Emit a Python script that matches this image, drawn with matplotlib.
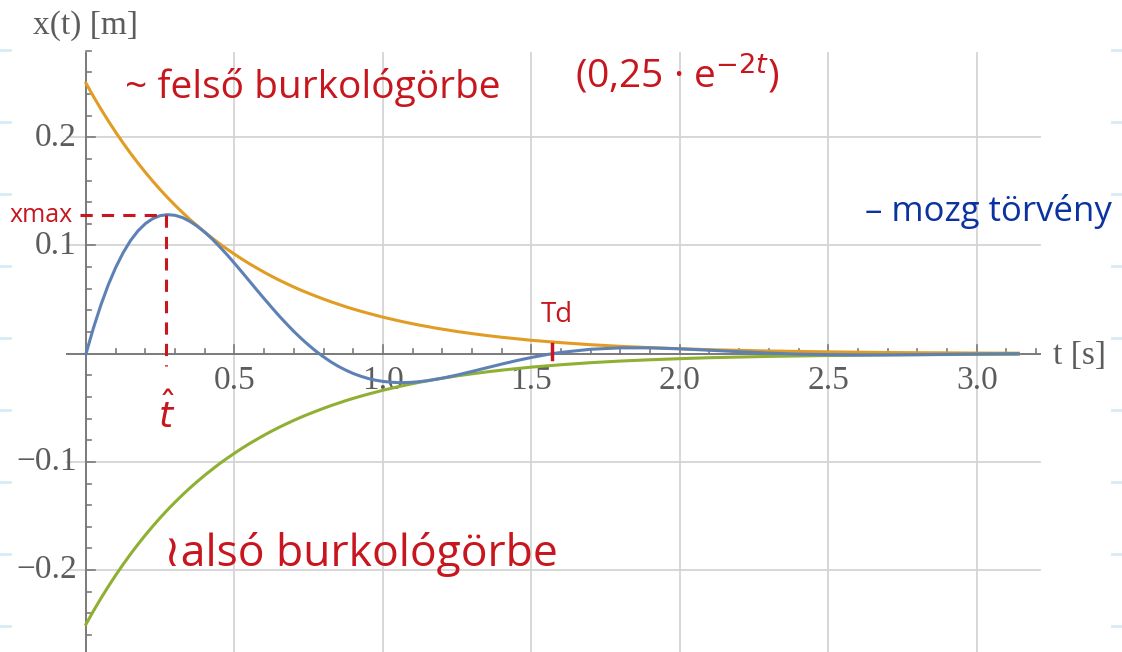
import numpy as np
import matplotlib.pyplot as plt

# time samples [s]
t = [0.000, 0.025, 0.050, 0.075, 0.100, 0.125, 0.150, 0.175, 0.200, 0.225,
     0.250, 0.275, 0.300, 0.325, 0.350, 0.375, 0.400, 0.425, 0.450, 0.475,
     0.500, 0.525, 0.550, 0.575, 0.600, 0.625, 0.650, 0.675, 0.700, 0.725,
     0.750, 0.775, 0.800, 0.825, 0.850, 0.875, 0.900, 0.925, 0.950, 0.975,
     1.000, 1.025, 1.050, 1.075, 1.100, 1.125, 1.150, 1.175, 1.200,
     1.25, 1.30, 1.35, 1.40, 1.45, 1.50, 1.55, 1.60, 1.70, 1.80, 1.90,
     2.00, 2.10, 2.20, 2.30, 2.40, 2.50, 2.60, 2.70, 2.80, 2.90, 3.00, 3.10, 3.14]

# upper envelope 0.25*e^(-2t) [m]
envelope = [0.2500, 0.2378, 0.2262, 0.2152, 0.2047, 0.1947, 0.1852, 0.1762, 0.1676, 0.1594,
            0.1516, 0.1442, 0.1372, 0.1305, 0.1241, 0.1181, 0.1123, 0.1069, 0.1016, 0.0967,
            0.0920, 0.0875, 0.0832, 0.0792, 0.0753, 0.0716, 0.0681, 0.0648, 0.0616, 0.0586,
            0.0558, 0.0531, 0.0505, 0.0480, 0.0457, 0.0434, 0.0413, 0.0393, 0.0374, 0.0356,
            0.0338, 0.0322, 0.0306, 0.0291, 0.0277, 0.0263, 0.0251, 0.0238, 0.0227,
            0.0205, 0.0186, 0.0168, 0.0152, 0.0138, 0.0124, 0.0113, 0.0102, 0.0083, 0.0068, 0.0056,
            0.0046, 0.0037, 0.0031, 0.0025, 0.0021, 0.0017, 0.0014, 0.0011, 0.0009, 0.0008,
            0.0006, 0.0005, 0.0005]

# displacement x(t) [m]
x = [0.0000, 0.0237, 0.0449, 0.0636, 0.0797, 0.0933, 0.1046, 0.1135, 0.1202, 0.1249,
     0.1276, 0.1285, 0.1279, 0.1258, 0.1223, 0.1178, 0.1123, 0.1060, 0.0989, 0.0915,
     0.0836, 0.0755, 0.0673, 0.0590, 0.0509, 0.0429, 0.0351, 0.0277, 0.0206, 0.0140,
     0.0079, 0.0022, -0.0029, -0.0076, -0.0117, -0.0152, -0.0183, -0.0208, -0.0229, -0.0245,
     -0.0256, -0.0263, -0.0267, -0.0267, -0.0264, -0.0258, -0.0249, -0.0238, -0.0226,
     -0.0197, -0.0164, -0.0130, -0.0096, -0.0064, -0.0035, -0.0009, 0.0012, 0.0041, 0.0054, 0.0054,
     0.0045, 0.0032, 0.0018, 0.0006, -0.0004, -0.0009, -0.0012, -0.0011, -0.0009, -0.0006,
     -0.0003, -0.0001, 0.0000]

x_ticks = [0.5, 1.0, 1.5, 2.0, 2.5, 3.0]
x_tick_labels = ["0.5", "1.0", "1.5", "2.0", "2.5", "3.0"]
y_ticks = [-0.2, -0.1, 0.1, 0.2]
y_tick_labels = ["\u22120.2", "\u22120.1", "0.1", "0.2"]

t_hat, x_max = 0.27, 0.128
t_d = 1.571

# pixel scale of the plot
sx, sy = 296.9, 1082.0
x0, y0 = 86.0, 353.7

fig = plt.figure(figsize=(11.22, 6.52), dpi=100)
ax = fig.add_axes([0, 0, 1, 1])
ax.set_xlim(-x0 / sx, (1122 - x0) / sx)
ax.set_ylim(-(652 - y0) / sy, y0 / sy)
ax.axis("off")

tmin, tmax = -0.064, 3.213
ymin, ymax = -0.30, 0.278

grid_c = "#d4d4d4"
axis_c = "#7a7a7a"
lab_c = "#5c5c5c"

# grid
for gx in x_ticks:
    ax.plot([gx, gx], [ymin, ymax], color=grid_c, lw=1.3, zorder=1)
for gy in y_ticks:
    ax.plot([tmin, tmax], [gy, gy], color=grid_c, lw=1.3, zorder=1)

# axes
ax.plot([tmin, tmax], [0, 0], color=axis_c, lw=1.4, zorder=2)
ax.plot([0, 0], [ymin, ymax], color=axis_c, lw=1.4, zorder=2)

for tk in np.arange(0.1, 3.25, 0.1):
    major = abs(tk * 2 - round(tk * 2)) < 1e-6
    h = (9 if major else 5) / sy
    ax.plot([tk, tk], [0, h], color=axis_c, lw=1.2, zorder=2)
for yk in np.arange(-0.30, 0.28, 0.02):
    if abs(yk) < 1e-9:
        continue
    major = abs(yk * 10 - round(yk * 10)) < 1e-6
    w = (9 if major else 5) / sx
    ax.plot([0, w], [yk, yk], color=axis_c, lw=1.2, zorder=2)

serif = "Liberation Serif"
for tk, lab in zip(x_ticks, x_tick_labels):
    ax.text(tk, -27 / sy, lab, ha="center", va="center", fontsize=24,
            family=serif, color=lab_c, zorder=3)
for yk, lab in zip(y_ticks, y_tick_labels):
    ax.text(-9 / sx, yk, lab, ha="right", va="center", fontsize=24,
            family=serif, color=lab_c, zorder=3)
ax.text(-53 / sx, (y0 - 26) / sy, "x(t) [m]", ha="left", va="center",
        fontsize=24, family=serif, color=lab_c)
ax.text((1053 - x0) / sx, -2 / sy, "t [s]", ha="left", va="center",
        fontsize=24, family=serif, color=lab_c)

# curves
ax.plot(t, envelope, color="#E19C24", lw=2.2, zorder=4)
ax.plot(t, [-v for v in envelope], color="#8FB032", lw=2.2, zorder=4)
ax.plot(t, x, color="#5E81B5", lw=2.2, zorder=5)

# hand notes
red = "#C8161E"
blue = "#0A32A0"
hand = ["Open Sans", "DejaVu Sans"]
ax.plot([-6 / sx, t_hat], [x_max, x_max], color=red, lw=2.2, ls=(0, (4, 3)), zorder=6)
ax.plot([t_hat, t_hat], [x_max, -12 / sy], color=red, lw=2.2, ls=(0, (4, 3)), zorder=6)
ax.plot([t_d, t_d], [10 / sy, -5 / sy], color=red, lw=2.5, zorder=6)

ax.text(-76 / sx, x_max, "xmax", ha="left", va="center", fontsize=18,
        family=hand, color=red)
ax.text(t_hat, -60 / sy, "$\\hat{t}$", ha="center", va="center", fontsize=26,
        color=red)
ax.text(1.53, 0.036, "Td", ha="left", va="center", fontsize=20,
        family=hand, color=red)
ax.text(0.131, 0.246, "~ felső burkológörbe", ha="left", va="center",
        fontsize=28, family=hand, color=red)
ax.text(1.647, 0.258, "(0,25 · e$^{-2t}$)", ha="left", va="center",
        fontsize=28, family=hand, color=red)
ax.text(0.262, -0.186, "≀alsó burkológörbe", ha="left", va="center",
        fontsize=32, family=hand, color=red)
ax.text(2.624, 0.131, "– mozg törvény", ha="left", va="center",
        fontsize=25, family=hand, color=blue)

# ruled paper marks at the edges
for yy in [50, 122, 194, 266, 338, 410, 482, 554, 626]:
    ax.plot([-x0 / sx, (10 - x0) / sx], [(y0 - yy) / sy] * 2, color="#d8ebf5", lw=2)
    ax.plot([(1112 - x0) / sx, (1122 - x0) / sx], [(y0 - yy) / sy] * 2, color="#d8ebf5", lw=2)

fig.savefig("out.png", dpi=100)
